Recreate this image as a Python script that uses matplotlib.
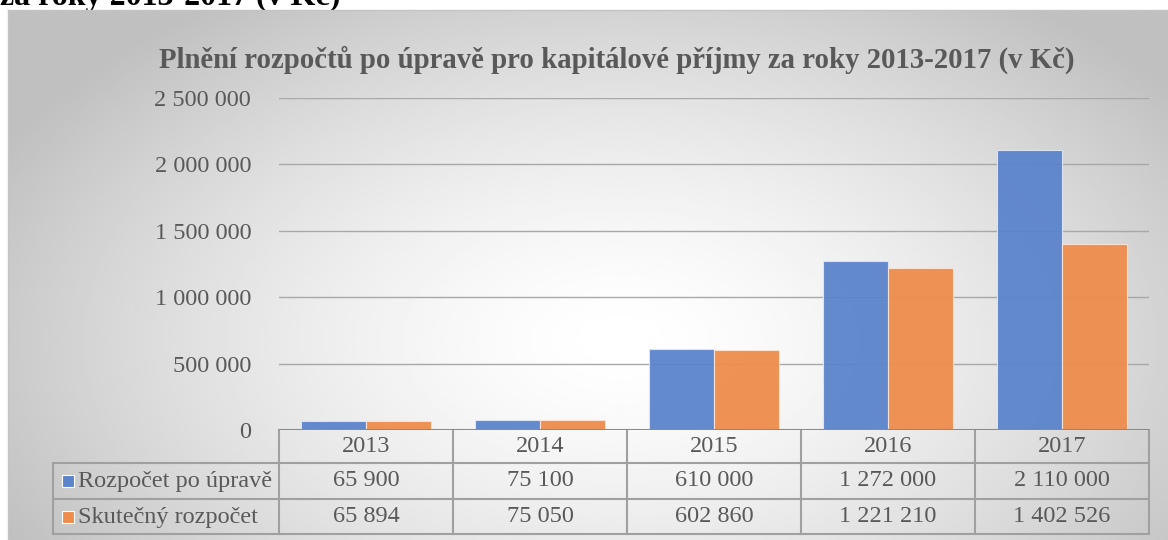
import matplotlib.pyplot as plt
import numpy as np
from matplotlib.patches import Rectangle
from matplotlib.lines import Line2D
from matplotlib.ticker import FuncFormatter

years = ['2013', '2014', '2015', '2016', '2017']
budget_adj = [65900, 75100, 610000, 1272000, 2110000]
budget_real = [65894, 75050, 602860, 1221210, 1402526]
series = ['Rozpočet po úpravě', 'Skutečný rozpočet']
title = 'Plnění rozpočtů po úpravě pro kapitálové příjmy za roky 2013-2017 (v Kč)'
cut_heading = 'za roky 2013-2017 (v Kč)'

W, H = 1168, 540
blue, orange = '#5b84cb', '#ee8c4c'
text_col = '#595959'
line_col = '#a0a0a0'
fs = 17.5


def fmt(v, pos=None):
    return f'{int(round(v)):,}'.replace(',', ' ')


plt.rcParams['font.family'] = ['Liberation Serif', 'DejaVu Serif']

fig = plt.figure(figsize=(W / 100, H / 100), dpi=100)

# heading of the page above the chart, mostly hidden by the chart frame
fig.text(0.0, 1 - 5 / H, cut_heading, fontsize=23, weight='bold',
         ha='left', va='baseline', color='black', zorder=-20)

# radial gradient background of the chart area
bg = fig.add_axes([8 / W, 0, 1 - 8 / W, 1 - 10 / H], zorder=-10)
xx, yy = np.meshgrid(np.linspace(8, W, 400), np.linspace(10, H, 200))
d = np.sqrt(((xx - 620) / 700) ** 2 + ((yy - 340) / 420) ** 2)
shade = 1 - 0.25 * np.clip(d, 0, 1) ** 1.5
bg.imshow(shade, cmap='gray', vmin=0, vmax=1, aspect='auto',
          extent=[0, 1, 0, 1], interpolation='bilinear')
bg.axis('off')
fig.add_artist(Line2D([8 / W, 1], [1 - 10 / H, 1 - 10 / H], color='#c4c4c4', lw=1))
fig.add_artist(Line2D([8 / W, 8 / W], [0, 1 - 10 / H], color='#c4c4c4', lw=1))

# main plot
ax = fig.add_axes([279 / W, 1 - 430 / H, 870 / W, 332 / H])
ax.set_facecolor('none')
x = np.arange(len(years))
bw = 0.375
ax.bar(x - bw / 2, budget_adj, bw, color=blue, edgecolor='#dfe6f4', lw=0.8, alpha=0.95, zorder=2)
ax.bar(x + bw / 2, budget_real, bw, color=orange, edgecolor='#fbe3d3', lw=0.8, alpha=0.95, zorder=2)
ax.set_xlim(-0.5, len(years) - 0.5)
ax.set_ylim(0, 2500000)
ax.set_yticks(np.arange(0, 2500001, 500000))
ax.yaxis.set_major_formatter(FuncFormatter(fmt))
ax.yaxis.grid(True, color='#a8a8a8', lw=1)
ax.set_axisbelow(True)
ax.set_xticks([])
ax.tick_params(axis='y', length=0, pad=20, labelsize=fs, labelcolor=text_col)
for s in ax.spines.values():
    s.set_visible(False)
ax.axhline(0, color='#8a8a8a', lw=2.2, zorder=3)

fig.text(617 / W, 1 - 60 / H, title, ha='center', va='center', fontsize=20.7,
         weight='bold', color=text_col)

# data table below the axis
trans = ax.get_xaxis_transform()


def fy(ypx):
    return (430 - ypx) / 332


def px2x(px):
    return -0.5 + (px - 279) / 174


xl = px2x(53)
xr = len(years) - 0.5
for ypx in (463, 499, 534):
    ax.add_line(Line2D([xl, xr], [fy(ypx), fy(ypx)], transform=trans, color=line_col,
                       lw=1.5, clip_on=False))
ax.add_line(Line2D([xl, xl], [fy(463), fy(534)], transform=trans, color=line_col,
                   lw=1.5, clip_on=False))
for i in range(len(years) + 1):
    ax.add_line(Line2D([i - 0.5, i - 0.5], [fy(430), fy(534)], transform=trans,
                       color=line_col, lw=1.5, clip_on=False))

for i, yr in enumerate(years):
    ax.text(i, fy(447), yr, transform=trans, ha='center', va='center',
            fontsize=fs, color=text_col)
    ax.text(i, fy(481), fmt(budget_adj[i]), transform=trans, ha='center', va='center',
            fontsize=fs, color=text_col)
    ax.text(i, fy(517), fmt(budget_real[i]), transform=trans, ha='center', va='center',
            fontsize=fs, color=text_col)

for name, col, ypx in zip(series, (blue, orange), (481, 517)):
    ax.add_patch(Rectangle((px2x(62), fy(ypx + 6)), 12 / 174, 12 / 332, transform=trans,
                           facecolor=col, edgecolor='white', lw=0.8, clip_on=False))
    ax.text(px2x(78), fy(ypx), name, transform=trans, ha='left', va='center',
            fontsize=fs, color=text_col)

fig.savefig('out.png', dpi=100)
